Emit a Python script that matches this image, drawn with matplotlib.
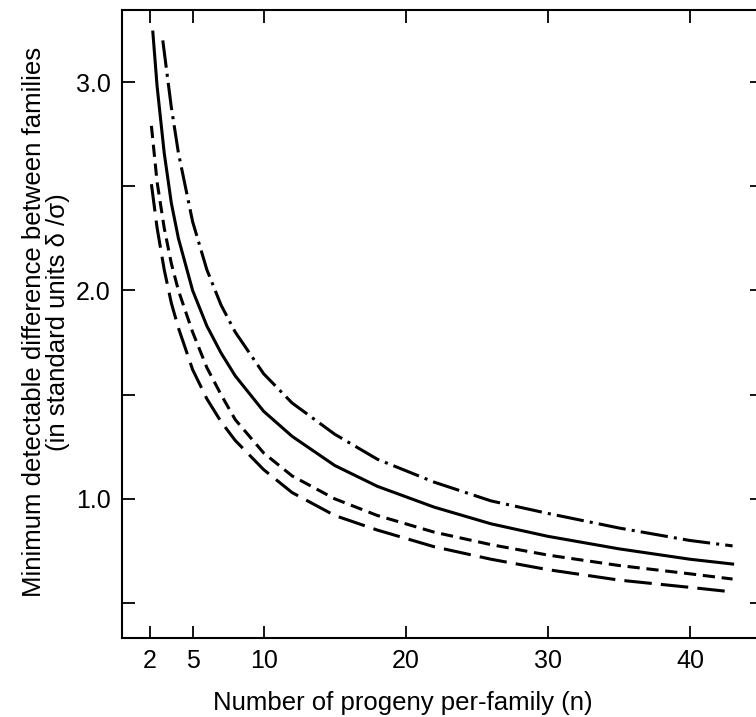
import matplotlib.pyplot as plt

plt.rcParams['font.family'] = ['Liberation Sans', 'DejaVu Sans']

# values (n, delta/sigma)
n_longdash = [2.1, 2.5, 3, 3.5, 4, 5, 6, 7, 8, 10, 12, 15, 18, 22, 26, 30, 35, 40, 43]
d_longdash = [2.51, 2.30, 2.10, 1.94, 1.82, 1.62, 1.48, 1.37, 1.28, 1.14, 1.03, 0.92,
              0.85, 0.77, 0.71, 0.66, 0.61, 0.575, 0.553]

n_shortdash = [2.1, 2.5, 3, 3.5, 4, 5, 6, 7, 8, 10, 12, 15, 18, 22, 26, 30, 35, 40, 43]
d_shortdash = [2.79, 2.52, 2.30, 2.13, 2.00, 1.80, 1.63, 1.50, 1.38, 1.22, 1.11, 1.00,
               0.92, 0.84, 0.78, 0.73, 0.68, 0.64, 0.615]

n_solid = [2.2, 2.5, 3, 3.5, 4, 5, 6, 7, 8, 10, 12, 15, 18, 22, 26, 30, 35, 40, 43]
d_solid = [3.24, 2.98, 2.66, 2.42, 2.25, 2.00, 1.83, 1.70, 1.59, 1.42, 1.30, 1.16,
           1.06, 0.96, 0.88, 0.82, 0.76, 0.71, 0.687]

n_dashdot = [2.9, 3.5, 4, 5, 6, 7, 8, 10, 12, 15, 18, 22, 26, 30, 35, 40, 43]
d_dashdot = [3.20, 2.88, 2.66, 2.33, 2.10, 1.93, 1.80, 1.60, 1.46, 1.31, 1.19, 1.08,
             0.99, 0.93, 0.86, 0.80, 0.774]

xticks = [2, 5, 10, 20, 30, 40]
yticks = [0.5, 1.0, 1.5, 2.0, 2.5, 3.0]
ytick_labels = ['', '1.0', '', '2.0', '', '3.0']

fig = plt.figure(figsize=(7.56, 7.17), dpi=100)
ax = fig.add_axes([122 / 756, 79 / 717, 640 / 756, 628 / 717])

lw = 2.2
ax.plot(n_longdash, d_longdash, color='black', lw=lw, dashes=(9, 3))
ax.plot(n_shortdash, d_shortdash, color='black', lw=lw, dashes=(4, 2.2))
ax.plot(n_solid, d_solid, color='black', lw=lw)
ax.plot(n_dashdot, d_dashdot, color='black', lw=lw, dashes=(9, 2, 1, 2))

ax.set_xlim(0.03, 45.07)
ax.set_ylim(0.332, 3.346)

ax.set_xticks(xticks)
ax.set_xticklabels([str(x) for x in xticks])
ax.set_yticks(yticks)
ax.set_yticklabels(ytick_labels)
ax.tick_params(direction='in', length=9, width=1.3, top=True, right=True,
               labelsize=18, pad=8)

for s in ax.spines.values():
    s.set_linewidth(1.5)

fig.text(403 / 756, 1 - 703 / 717, 'Number of progeny per-family (n)',
         ha='center', va='center', fontsize=18.5)
fig.text(46 / 756, 1 - 322 / 717,
         'Minimum detectable difference between families\n(in standard units δ /σ)',
         ha='center', va='center', rotation=90, fontsize=18.5, linespacing=1.0,
         multialignment='center')

fig.savefig('out.png', dpi=100)
